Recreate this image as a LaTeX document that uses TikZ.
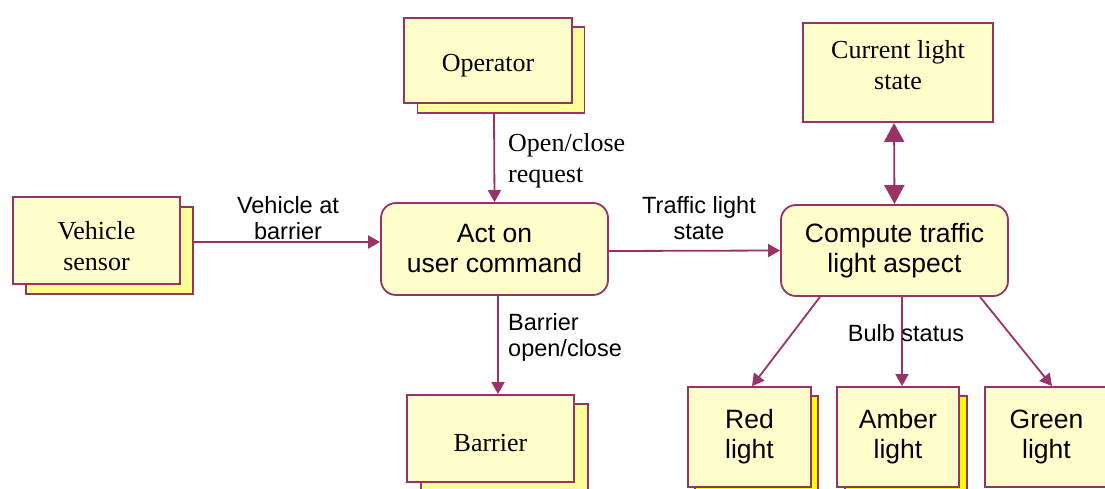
\documentclass[tikz,border=0pt]{standalone}
\usepackage{fontspec}
\setmainfont{Liberation Serif}
\newfontfamily\arialfont{Liberation Sans}
\usetikzlibrary{arrows.meta}
\definecolor{mag}{HTML}{993366}
\definecolor{frontfill}{HTML}{FFFFCC}
\definecolor{shadefill}{HTML}{FFFF99}
\definecolor{brightfill}{HTML}{FFFF00}
\tikzset{
  x=1pt, y=-1pt,
  box/.style={rectangle, draw=mag, line width=1.8pt, fill=frontfill, inner sep=0pt, align=center},
  shadebox/.style={box, fill=shadefill},
  brightbox/.style={box, fill=brightfill},
  procbox/.style={box, rounded corners=15pt},
  serifbig/.style={font=\fontsize{26}{31}\selectfont},
  seriftext/.style={serifbig, align=center, inner sep=0pt},
  sansbig/.style={font=\arialfont\fontsize{26.5}{30}\selectfont},
  lbl/.style={font=\arialfont\fontsize{23.5}{26}\selectfont, align=center, inner sep=0pt},
  seriflbl/.style={font=\fontsize{26}{31}\selectfont, align=left, inner sep=0pt},
  arr/.style={draw=mag, line width=1.8pt, -{Triangle[length=12pt,width=13pt]}},
  dblarr/.style={draw=mag, line width=1.8pt, {Triangle[length=19pt,width=20pt]}-{Triangle[length=19pt,width=20pt]}}
}
\begin{document}
\begin{tikzpicture}
\useasboundingbox (0,0) rectangle (1105,488);
\clip (0,0) rectangle (1105,488);
% Vehicle sensor
\node[shadebox, minimum width=167pt, minimum height=87pt] (vs-s) at (109.5,250.5) {};
\node[box, minimum width=167pt, minimum height=87pt] (vs) at (96.5,240.5) {};
\node[seriftext] (vstext) at (96.5,246) {Vehicle\\sensor};
% Operator
\node[shadebox, minimum width=167pt, minimum height=86pt] (op-s) at (501,70) {};
\node[box, minimum width=168pt, minimum height=85pt] (op) at (488,60.5) {};
\node[seriftext] (optext) at (488,66) {Operator};
% Barrier
\node[shadebox, minimum width=167pt, minimum height=87pt] (bar-s) at (504.5,447.5) {};
\node[box, minimum width=167pt, minimum height=87pt] (bar) at (490.5,438.5) {};
\node[seriftext] (bartext) at (490.5,443.5) {Barrier};
% Current light state
\node[box, minimum width=190pt, minimum height=99pt] (cls) at (898,72.5) {};
\node[seriftext] (clstext) at (898,65) {Current light\\state};
% Processes
\node[procbox, sansbig, minimum width=227pt, minimum height=92pt] (act) at (494.5,249) {Act on\\user command};
\node[procbox, sansbig, minimum width=227pt, minimum height=91pt] (comp) at (894.5,250.5) {Compute traffic\\light aspect};
% Lights
\node[brightbox, minimum width=123pt, minimum height=100pt] (red-s) at (756.5,446) {};
\node[box, sansbig, minimum width=123pt, minimum height=100pt] (red) at (749.5,437) {Red\\light};
\node[brightbox, minimum width=122pt, minimum height=100pt] (amb-s) at (906,446) {};
\node[box, sansbig, minimum width=122pt, minimum height=100pt] (amb) at (898,437) {Amber\\light};
\node[box, sansbig, minimum width=123pt, minimum height=100pt] (grn) at (1046.5,437) {Green\\light};
% Connectors
\draw[arr] ([yshift=8.5pt]vs-s.east) -- ([yshift=7pt]act.west);
\draw[arr] ([xshift=-7pt]op-s.south) -- (act.north);
\draw[arr] ([yshift=-2pt]act.east) -- (comp.west);
\draw[dblarr] ([xshift=-4pt]cls.south) -- (comp.north);
\draw[arr] ([xshift=3.5pt]act.south) -- ([xshift=7.5pt]bar.north);
\draw[arr] ([xshift=-74.5pt]comp.south) -- ([xshift=2.5pt]red.north);
\draw[arr] ([xshift=7.5pt]comp.south) -- ([xshift=4pt]amb.north);
\draw[arr] ([xshift=85.5pt]comp.south) -- ([xshift=5.5pt]grn.north);
% Labels
\node[lbl] (l1) at (288,218) {Vehicle at\\barrier};
\node[seriflbl, anchor=west] (l2) at (508,161) {Open/close\\request};
\node[lbl] (l3) at (699,218) {Traffic light\\state};
\node[lbl, anchor=west, align=left] (l4) at (508,337) {Barrier\\open/close};
\node[lbl] (l5) at (906,333) {Bulb status};
\end{tikzpicture}
\end{document}
